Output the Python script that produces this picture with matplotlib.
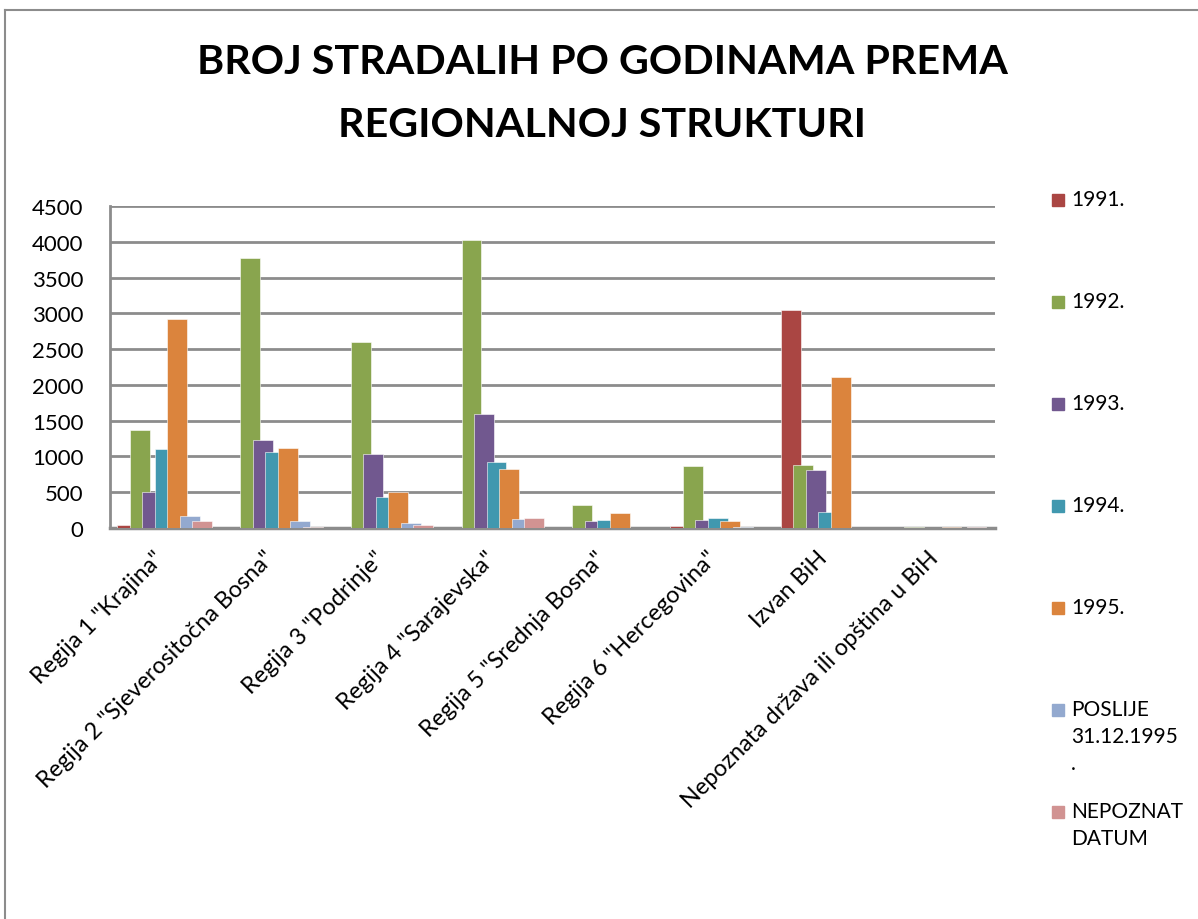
import matplotlib
matplotlib.use("Agg")
import matplotlib.pyplot as plt
import matplotlib.transforms as mtransforms
from matplotlib.patches import Rectangle
from matplotlib.lines import Line2D
import numpy as np

plt.rcParams['font.family'] = ['Lato', 'DejaVu Sans']

regions = ['Regija 1 "Krajina"', 'Regija 2 "Sjeverositočna Bosna"',
           'Regija 3 "Podrinje"', 'Regija 4 "Sarajevska"',
           'Regija 5 "Srednja Bosna"', 'Regija 6 "Hercegovina"',
           'Izvan BiH', 'Nepoznata država ili opština u BiH']

series = ['1991.', '1992.', '1993.', '1994.', '1995.',
          'POSLIJE\n31.12.1995\n.', 'NEPOZNAT\nDATUM']

v1991 = [40, 0, 0, 0, 0, 30, 3050, 0]
v1992 = [1365, 3770, 2600, 4020, 325, 866, 880, 10]
v1993 = [503, 1229, 1035, 1592, 95, 115, 810, 0]
v1994 = [1105, 1061, 433, 922, 110, 140, 225, 0]
v1995 = [2920, 1117, 503, 824, 215, 100, 2110, 10]
poslije = [170, 100, 75, 125, 0, 10, 0, 0]
nepoznat = [95, 8, 40, 140, 0, 0, 0, 15]

values = [v1991, v1992, v1993, v1994, v1995, poslije, nepoznat]
colors = ['#AA4643', '#89A54E', '#71588F', '#4198AF', '#DB843D', '#93A9CF', '#D19392']

fig = plt.figure(figsize=(11.98, 9.2), dpi=100)
ax = fig.add_axes([110/1198, 1-529/920, 885/1198, 322/920])

x = np.arange(len(regions))
step = 0.113
width = 0.18
for i, vals in enumerate(values):
    ax.bar(x - 0.435 + i*step, vals, width=width, align='edge',
           color=colors[i], edgecolor='white', linewidth=0.4, zorder=3)

ax.set_xlim(-0.5, len(regions) - 0.5)
ax.set_ylim(0, 4500)
ax.set_yticks(np.arange(0, 4501, 500))
ax.yaxis.grid(True, color='#8c8c8c', linewidth=2, zorder=0)
ax.set_axisbelow(True)
for s in ['top', 'right']:
    ax.spines[s].set_visible(False)
ax.spines['left'].set_color('#8c8c8c')
ax.spines['left'].set_linewidth(2)
ax.spines['bottom'].set_color('#8c8c8c')
ax.spines['bottom'].set_linewidth(2.5)
ax.tick_params(axis='y', length=0, pad=19, labelsize=16)
ax.tick_params(axis='x', length=0, pad=19, labelsize=16.8)
ax.set_xticks(x)
ax.set_xticklabels(regions, rotation=45, ha='right', va='center', rotation_mode='anchor')
shift = mtransforms.ScaledTranslation(-5/100, 0, fig.dpi_scale_trans)
for lab in ax.get_xticklabels():
    lab.set_transform(lab.get_transform() + shift)

fig.text(602/1198, 1-94/920, 'BROJ STRADALIH PO GODINAMA PREMA\nREGIONALNOJ STRUKTURI',
         ha='center', va='center', fontsize=29.7, fontweight='bold', linespacing=1.86)

# legend drawn manually, entries spaced evenly like the original
for i, lab in enumerate(series):
    yc = 1 - (201 + i*102) / 920
    fig.patches.append(Rectangle((1052/1198, yc - 6/920), 12/1198, 12/920,
                                 transform=fig.transFigure, color=colors[i]))
    fig.text(1071/1198, yc + 11/920, lab, ha='left', va='top', fontsize=15,
             linespacing=1.45)

# outer chart border (clipped at right and bottom)
fig.lines.append(Line2D([4.5/1198, 4.5/1198], [0, 1-11/920], transform=fig.transFigure,
                        color='#8c8c8c', linewidth=1.5))
fig.lines.append(Line2D([4.5/1198, 1], [1-11/920, 1-11/920], transform=fig.transFigure,
                        color='#8c8c8c', linewidth=1.5))

fig.savefig('out.png', dpi=100)
